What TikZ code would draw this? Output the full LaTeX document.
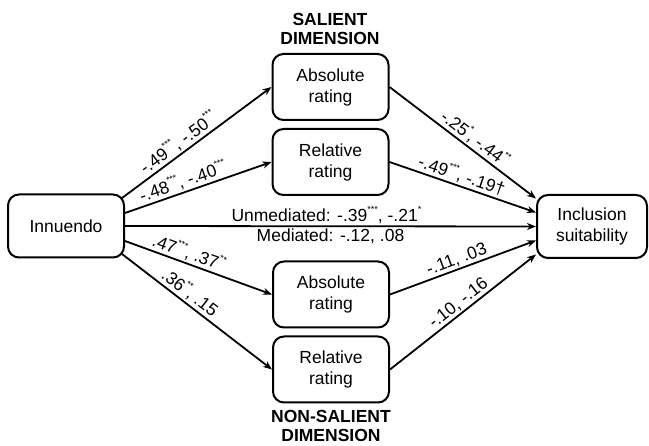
\documentclass[tikz,border=0pt]{standalone}
\usepackage{fontspec}
\setmainfont{Liberation Sans}
\usetikzlibrary{arrows.meta,calc}
\newcommand\sg[1]{\raisebox{0.95ex}{\fontsize{9}{9}\selectfont #1}}
\tikzset{
  box/.style={draw, line width=2pt, rounded corners=11pt, minimum width=116pt,
    minimum height=66pt, align=center, inner sep=0pt,
    font=\fontsize{17.5}{21}\selectfont},
  head/.style={align=center, inner sep=0pt, font=\bfseries\fontsize{17.5}{19.5}\selectfont},
  arr/.style={line width=1.8pt, -{Stealth[length=9pt,width=7pt]}},
  lab/.style={sloped, above, inner sep=1.5pt, font=\fontsize{17.5}{21}\selectfont},
  labb/.style={below, inner sep=2pt, font=\fontsize{17.5}{21}\selectfont}
}
\begin{document}
\begin{tikzpicture}[x=1pt,y=-1pt]
\useasboundingbox (0,0) rectangle (649,446);
\node[box, minimum height=63pt] (inn) at (66,226) {Innuendo};
\node[box] (sa) at (330.5,87) {Absolute\\rating};
\node[box] (sr) at (330.5,162) {Relative\\rating};
\node[box] (na) at (331,294.5) {Absolute\\rating};
\node[box] (nr) at (331,369.5) {Relative\\rating};
\node[box, minimum width=110pt, minimum height=63pt] (inc) at (592,226.5) {Inclusion\\suitability};
\node[head] (h1) at (330,29) {SALIENT\\DIMENSION};
\node[head] (h2) at (331,426) {NON-SALIENT\\DIMENSION};

\draw[arr] ([xshift=-3pt,yshift=28pt]inn.east) -- (sa.west)
  node[lab, pos=0.42] {-.49\sg{***}, -.50\sg{***}};
\draw[arr] ([yshift=13pt]inn.east) -- (sr.west)
  node[lab, pos=0.42] {-.48\sg{***}, -.40\sg{***}};
\draw[arr] (inn.east) -- (inc.west)
  node[lab, pos=0.49] {Unmediated: -.39\sg{***}, -.21\sg{*}}
  node[labb, pos=0.5] {Mediated: -.12, .08};
\draw[arr] ([yshift=-15pt]inn.east) -- (na.west)
  node[lab, pos=0.41] {.47\sg{***}, .37\sg{**}};
\draw[arr] ([xshift=-3pt,yshift=-28pt]inn.east) -- (nr.west)
  node[lab, pos=0.41] {.36\sg{**}, .15};

\draw[arr] (sa.east) -- ([yshift=28pt]inc.west)
  node[lab, pos=0.54] {-.25\sg{*}, -.44\sg{**}};
\draw[arr] (sr.east) -- ([yshift=14pt]inc.west)
  node[lab, pos=0.47] {-.49\sg{***}, -.19\dag};
\draw[arr] (na.east) -- ([yshift=-14pt]inc.west)
  node[lab, pos=0.48] {-.11, .03};
\draw[arr] (nr.east) -- ([yshift=-28pt]inc.west)
  node[lab, pos=0.51] {-.10, -.16};
\end{tikzpicture}
\end{document}
